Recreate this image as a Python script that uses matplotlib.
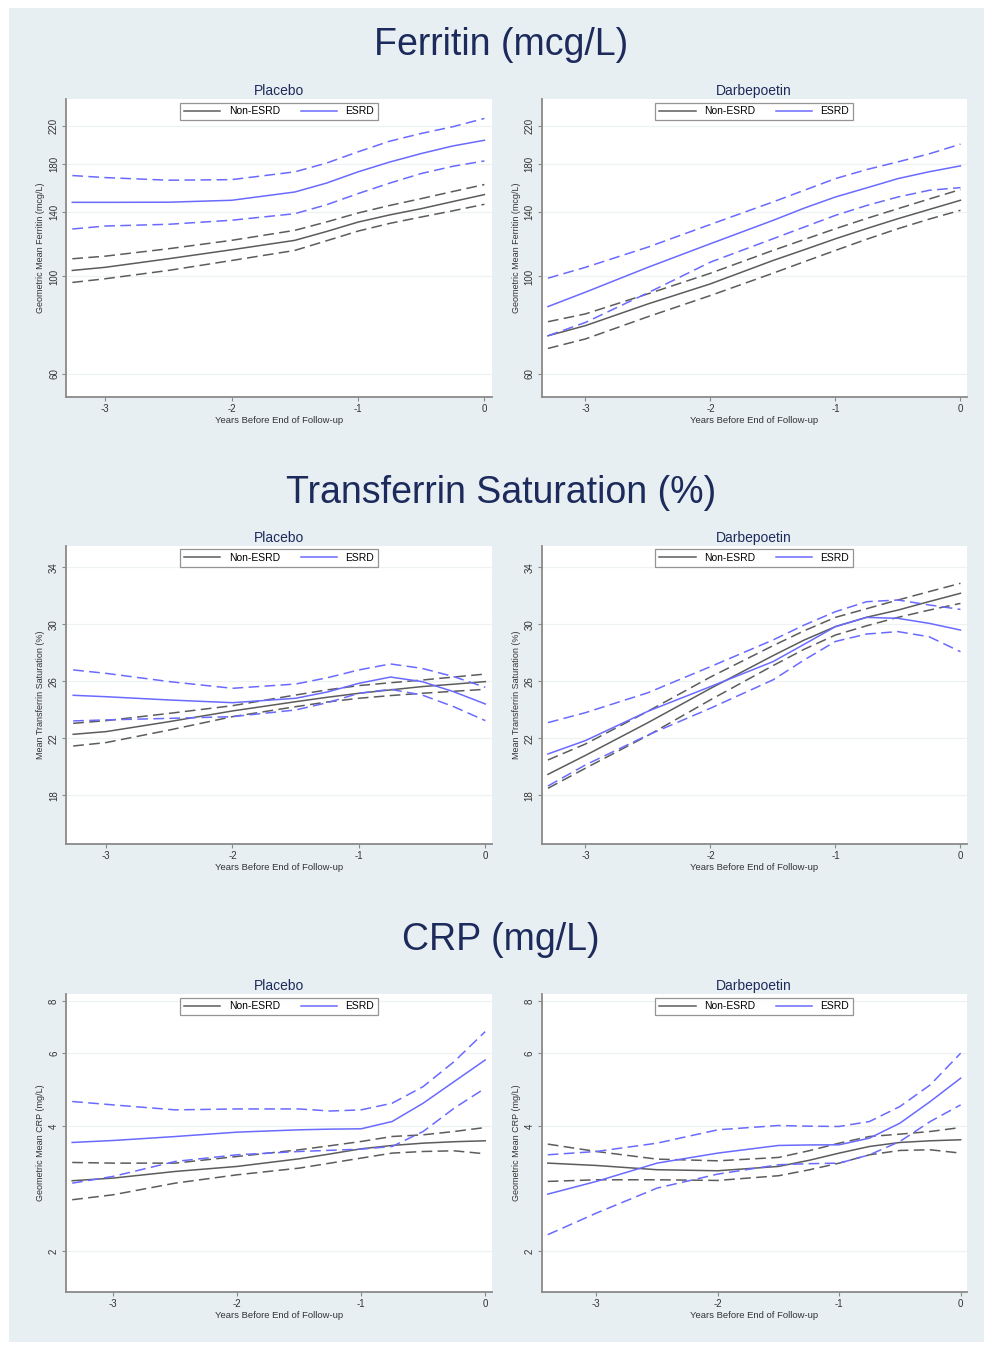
import numpy as np
import matplotlib
matplotlib.use("Agg")
import matplotlib.pyplot as plt
from matplotlib.patches import Rectangle
from matplotlib.lines import Line2D
from matplotlib.ticker import FixedLocator, FixedFormatter, NullLocator

plt.rcParams['font.family'] = ['Liberation Sans', 'DejaVu Sans']

# years before end of follow-up (x grid of the read values)
x_fer_pla = [-3.26, -3, -2.5, -2, -1.5, -1.25, -1, -0.75, -0.5, -0.25, 0]
x_fer_dar = [-3.3, -3, -2.5, -2, -1.5, -1.25, -1, -0.75, -0.5, -0.25, 0]
x_tsat_pla = [-3.26, -3, -2.5, -2, -1.5, -1.25, -1, -0.75, -0.5, -0.25, 0]
x_tsat_dar = [-3.3, -3, -2.5, -2, -1.5, -1.25, -1, -0.75, -0.5, -0.25, 0]
x_crp_pla = [-3.33, -3, -2.5, -2, -1.5, -1.25, -1, -0.75, -0.5, -0.25, 0]
x_crp_dar = [-3.4, -3, -2.5, -2, -1.5, -1.25, -1, -0.75, -0.5, -0.25, 0]

# Ferritin (mcg/L), placebo
fer_pla_esrd = [147.4, 147.4, 147.5, 149.0, 155.6, 163.0, 172.9, 182.0, 190.3, 198.0, 204.0]
fer_pla_esrd_hi = [169.6, 167.8, 165.5, 166.0, 172.9, 181.0, 192.0, 203.0, 211.4, 219.0, 228.7]
fer_pla_esrd_lo = [128.2, 130.2, 131.4, 134.2, 138.9, 145.5, 154.3, 163.0, 171.4, 178.0, 183.1]
fer_pla_non = [103.2, 104.9, 109.7, 115.0, 120.8, 126.5, 132.9, 138.0, 142.6, 148.0, 153.5]
fer_pla_non_hi = [109.7, 111.2, 115.6, 120.8, 127.3, 133.0, 139.4, 145.0, 150.3, 156.0, 161.8]
fer_pla_non_lo = [96.9, 98.8, 103.2, 108.7, 114.6, 120.5, 126.8, 132.0, 136.5, 141.0, 145.9]

# Ferritin (mcg/L), darbepoetin
fer_dar_esrd = [85.4, 92.1, 104.9, 118.7, 134.1, 143.0, 151.6, 159.0, 166.9, 173.0, 178.4]
fer_dar_esrd_hi = [99.1, 104.9, 116.6, 131.3, 147.7, 157.0, 166.9, 175.0, 182.2, 190.0, 199.9]
fer_dar_esrd_lo = [73.3, 78.6, 91.8, 107.8, 121.8, 129.5, 137.7, 145.0, 151.6, 157.0, 159.2]
fer_dar_non = [73.3, 77.3, 86.6, 96.2, 108.7, 115.0, 121.8, 128.5, 135.3, 142.0, 149.0]
fer_dar_non_hi = [78.9, 82.2, 91.3, 101.7, 114.6, 121.3, 128.4, 135.5, 142.6, 150.0, 157.6]
fer_dar_non_lo = [68.6, 72.1, 81.0, 90.5, 101.7, 108.0, 114.6, 121.5, 128.4, 135.0, 141.4]

# Transferrin saturation (%), placebo
tsat_pla_esrd = [25.02, 24.92, 24.69, 24.50, 24.81, 25.25, 25.86, 26.30, 25.98, 25.27, 24.41]
tsat_pla_esrd_hi = [26.80, 26.56, 25.98, 25.51, 25.81, 26.25, 26.80, 27.22, 26.91, 26.33, 25.58]
tsat_pla_esrd_lo = [23.22, 23.29, 23.40, 23.52, 23.99, 24.50, 25.16, 25.44, 25.04, 24.22, 23.24]
tsat_pla_non = [22.28, 22.47, 23.17, 23.92, 24.57, 24.88, 25.16, 25.40, 25.63, 25.80, 25.98]
tsat_pla_non_hi = [23.05, 23.24, 23.75, 24.29, 25.04, 25.40, 25.70, 25.90, 26.09, 26.30, 26.51]
tsat_pla_non_lo = [21.46, 21.70, 22.58, 23.52, 24.22, 24.55, 24.81, 25.00, 25.16, 25.30, 25.44]

# Transferrin saturation (%), darbepoetin
tsat_dar_esrd = [20.90, 21.84, 23.90, 25.63, 27.38, 28.60, 29.84, 30.49, 30.42, 30.07, 29.60]
tsat_dar_esrd_hi = [23.10, 23.80, 25.20, 27.03, 28.90, 29.95, 30.89, 31.59, 31.71, 31.36, 31.05]
tsat_dar_esrd_lo = [18.65, 20.13, 22.23, 24.11, 26.10, 27.50, 28.80, 29.32, 29.49, 29.13, 28.08]
tsat_dar_non = [19.47, 20.80, 23.10, 25.50, 27.80, 28.90, 29.84, 30.50, 31.00, 31.60, 32.18]
tsat_dar_non_hi = [20.48, 21.60, 23.90, 26.30, 28.50, 29.55, 30.49, 31.10, 31.71, 32.30, 32.88]
tsat_dar_non_lo = [18.49, 19.90, 22.20, 24.70, 27.10, 28.25, 29.25, 29.90, 30.49, 31.00, 31.47]

# CRP (mg/L), placebo
crp_pla_esrd = [3.655, 3.695, 3.777, 3.870, 3.920, 3.935, 3.942, 4.105, 4.542, 5.12, 5.77]
crp_pla_esrd_hi = [4.585, 4.50, 4.378, 4.40, 4.40, 4.35, 4.378, 4.542, 4.98, 5.72, 6.75]
crp_pla_esrd_lo = [2.918, 3.029, 3.29, 3.414, 3.477, 3.50, 3.522, 3.575, 3.884, 4.419, 4.936]
crp_pla_non = [2.957, 3.001, 3.113, 3.201, 3.339, 3.43, 3.529, 3.595, 3.641, 3.67, 3.689]
crp_pla_non_hi = [3.272, 3.26, 3.26, 3.382, 3.51, 3.59, 3.675, 3.778, 3.813, 3.884, 3.97]
crp_pla_non_lo = [2.662, 2.736, 2.918, 3.056, 3.171, 3.26, 3.352, 3.446, 3.477, 3.49, 3.433]

# CRP (mg/L), darbepoetin
crp_dar_esrd = [2.746, 2.946, 3.26, 3.446, 3.595, 3.605, 3.608, 3.744, 4.067, 4.585, 5.216]
crp_dar_esrd_hi = [3.414, 3.477, 3.641, 3.920, 4.015, 4.00, 3.993, 4.105, 4.46, 5.028, 5.99]
crp_dar_esrd_lo = [2.194, 2.472, 2.839, 3.068, 3.231, 3.25, 3.26, 3.414, 3.675, 4.105, 4.50]
crp_dar_non = [3.26, 3.218, 3.143, 3.125, 3.201, 3.31, 3.446, 3.575, 3.655, 3.689, 3.71]
crp_dar_non_hi = [3.622, 3.477, 3.333, 3.302, 3.364, 3.49, 3.641, 3.778, 3.827, 3.884, 3.97]
crp_dar_non_lo = [2.946, 2.973, 2.973, 2.962, 3.04, 3.14, 3.26, 3.414, 3.497, 3.51, 3.446]

row_titles = ['Ferritin (mcg/L)', 'Transferrin Saturation (%)', 'CRP (mg/L)']
col_titles = ['Placebo', 'Darbepoetin']
ylabels = ['Geometric Mean Ferritin (mcg/L)', 'Mean Transferrin Saturation (%)',
           'Geometric Mean CRP (mg/L)']
yticks = [[60, 100, 140, 180, 220], [18, 22, 26, 30, 34], [2, 4, 6, 8]]
ylims = [(53.2, 252.8), (14.58, 35.5), (1.6, 8.3)]
log_rows = [True, False, True]
xticks = [-3, -2, -1, 0]
xlims = [[(-3.31, 0.06), (-3.35, 0.05)],
         [(-3.317, 0.053), (-3.35, 0.05)],
         [(-3.38, 0.055), (-3.45, 0.05)]]

panels = [
    [(x_fer_pla, fer_pla_non, fer_pla_non_hi, fer_pla_non_lo, fer_pla_esrd, fer_pla_esrd_hi, fer_pla_esrd_lo),
     (x_fer_dar, fer_dar_non, fer_dar_non_hi, fer_dar_non_lo, fer_dar_esrd, fer_dar_esrd_hi, fer_dar_esrd_lo)],
    [(x_tsat_pla, tsat_pla_non, tsat_pla_non_hi, tsat_pla_non_lo, tsat_pla_esrd, tsat_pla_esrd_hi, tsat_pla_esrd_lo),
     (x_tsat_dar, tsat_dar_non, tsat_dar_non_hi, tsat_dar_non_lo, tsat_dar_esrd, tsat_dar_esrd_hi, tsat_dar_esrd_lo)],
    [(x_crp_pla, crp_pla_non, crp_pla_non_hi, crp_pla_non_lo, crp_pla_esrd, crp_pla_esrd_hi, crp_pla_esrd_lo),
     (x_crp_dar, crp_dar_non, crp_dar_non_hi, crp_dar_non_lo, crp_dar_esrd, crp_dar_esrd_hi, crp_dar_esrd_lo)],
]

W, H = 986, 1345
bg = '#e8eff2'
navy = '#1d2b5c'
gray = '#5c5c5c'
blue = '#6a6aff'
axcol = '#8a8a8a'
dash = (0, (7, 3.5))

fig = plt.figure(figsize=(W / 100, H / 100), dpi=100)
fig.patches.append(Rectangle((9 / W, 3 / H), (984 - 9) / W, (1340 - 6) / H,
                             transform=fig.transFigure, facecolor=bg, edgecolor='none', zorder=-10))

# axes boxes in pixels: left, right; top, bottom per row
col_lr = [(66, 492), (541.7, 966.7)]
row_tb = [(99.3, 397), (546, 844), (994.3, 1291.7)]
title_y = [45, 493, 940]

for r in range(3):
    fig.text(501 / W, 1 - title_y[r] / H, row_titles[r], ha='center', va='center',
             fontsize=27, color=navy)
    for c in range(2):
        l, rr = col_lr[c]
        t, b = row_tb[r]
        ax = fig.add_axes([l / W, 1 - b / H, (rr - l) / W, (b - t) / H])
        ax.set_facecolor('white')
        x, non, non_hi, non_lo, esrd, esrd_hi, esrd_lo = panels[r][c]

        ax.plot(x, non, color=gray, lw=1.1)
        ax.plot(x, non_hi, color=gray, lw=1.1, ls=dash)
        ax.plot(x, non_lo, color=gray, lw=1.1, ls=dash)
        ax.plot(x, esrd, color=blue, lw=1.1)
        ax.plot(x, esrd_hi, color=blue, lw=1.1, ls=dash)
        ax.plot(x, esrd_lo, color=blue, lw=1.1, ls=dash)

        if log_rows[r]:
            ax.set_yscale('log')
        ax.set_ylim(ylims[r])
        ax.set_xlim(xlims[r][c])
        ax.yaxis.set_major_locator(FixedLocator(yticks[r]))
        ax.yaxis.set_major_formatter(FixedFormatter([str(v) for v in yticks[r]]))
        ax.yaxis.set_minor_locator(NullLocator())
        ax.set_xticks(xticks)
        ax.set_xticklabels([str(v) for v in xticks])
        for v in yticks[r]:
            ax.axhline(v, color='#eef2f4', lw=0.9, zorder=0)

        for s in ['top', 'right']:
            ax.spines[s].set_visible(False)
        for s in ['left', 'bottom']:
            ax.spines[s].set_color(axcol)
            ax.spines[s].set_linewidth(1.3)
        ax.tick_params(axis='both', length=3, width=0.8, color=axcol,
                       labelsize=7, labelcolor='#333333', pad=2)
        for lab in ax.get_yticklabels():
            lab.set_rotation(90)
            lab.set_va('center')

        ax.set_xlabel('Years Before End of Follow-up', fontsize=6.8, color='#333333', labelpad=1.5)
        ax.set_ylabel(ylabels[r], fontsize=6.5, color='#333333', labelpad=3)
        ax.set_title(col_titles[c], fontsize=10, color=navy, pad=3)

        handles = [Line2D([], [], color=gray, lw=1.1), Line2D([], [], color=blue, lw=1.1)]
        leg = ax.legend(handles, ['Non-ESRD', 'ESRD'], loc='upper center', ncol=2,
                        bbox_to_anchor=(0.5, 1.0), fontsize=7.5, frameon=True, fancybox=False,
                        handlelength=3.5, columnspacing=2.0, handletextpad=0.8,
                        borderpad=0.35, borderaxespad=0.33)
        leg.get_frame().set_edgecolor('#7a7a7a')
        leg.get_frame().set_linewidth(0.9)

fig.savefig('out.png', dpi=100, facecolor='white')
